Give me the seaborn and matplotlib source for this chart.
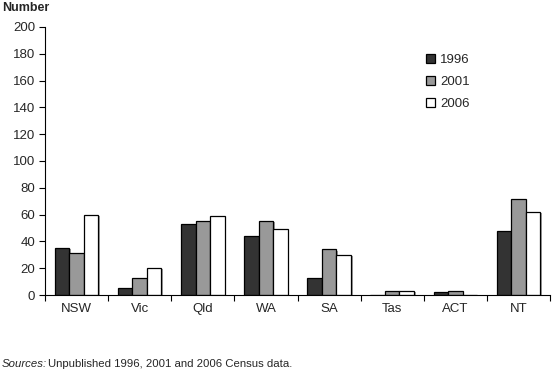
import pandas as pd
import numpy as np
import matplotlib
matplotlib.use('Agg')
import matplotlib.pyplot as plt
import matplotlib.patheffects as pe
import seaborn as sns

# data
states = ['NSW', 'Vic', 'Qld', 'WA', 'SA', 'Tas', 'ACT', 'NT']
years = ['1996', '2001', '2006']
y1996 = [35, 5, 53, 44, 13, 0, 2, 48]
y2001 = [31, 13, 55, 55, 34, 3, 3, 72]
y2006 = [60, 20, 59, 49, 30, 3, 0, 62]
colors = ['#333333', '#999999', '#ffffff']

# long format for seaborn
data = pd.DataFrame({
    'State': states * 3,
    'Year': [years[0]] * 8 + [years[1]] * 8 + [years[2]] * 8,
    'Number': y1996 + y2001 + y2006,
})

sns.set_style('white')
plt.rcParams['font.family'] = ['Liberation Sans', 'DejaVu Sans']

fig = plt.figure(figsize=(5.53, 3.7), dpi=100)
ax = fig.add_axes([45 / 553, 1 - 295 / 370, 505 / 553, 268 / 370])

sns.barplot(data=data, x='State', y='Number', hue='Year', palette=colors,
            width=0.69, edgecolor='black', linewidth=0.9, saturation=1, ax=ax)

# small grey drop shadow like the original
for p in ax.patches:
    p.set_path_effects([pe.SimplePatchShadow(offset=(1.2, -0.8), shadow_rgbFace='#888888', alpha=0.8),
                        pe.Normal()])

ax.set_ylim(0, 200)
ax.set_xlim(-0.5, 7.5)
ax.set_yticks(range(0, 201, 20))
ax.set_xlabel('')
ax.set_ylabel('')
ax.set_xticks(np.arange(8))
ax.set_xticklabels(states)
ax.set_xticks(np.arange(-0.5, 8, 1), minor=True)
ax.tick_params(axis='x', which='major', length=0, labelsize=9.5, pad=6)
ax.tick_params(axis='x', which='minor', length=4, width=0.8, color='black', direction='out', bottom=True)
ax.tick_params(axis='y', length=4, width=0.8, color='black', direction='out', left=True, labelsize=9.5, pad=3)

sns.despine(ax=ax)
for s in ['left', 'bottom']:
    ax.spines[s].set_color('black')
    ax.spines[s].set_linewidth(0.8)

leg = ax.legend(frameon=False, fontsize=9.5, loc='upper left', bbox_to_anchor=(0.73, 0.945),
                handlelength=0.7, handleheight=0.7, handletextpad=0.4, labelspacing=0.75)
for h in leg.legend_handles:
    h.set_path_effects([])

fig.text(2 / 553, 1 - 8 / 370, 'Number', fontsize=9, fontweight='bold', va='center', ha='left')
fig.text(2 / 553, 1 - 364 / 370, 'Sources:', fontsize=8.2, va='center', ha='left', style='italic')
fig.text(48 / 553, 1 - 364 / 370, 'Unpublished 1996, 2001 and 2006 Census data.', fontsize=8.2,
         va='center', ha='left')

fig.savefig('out.png', dpi=100)
